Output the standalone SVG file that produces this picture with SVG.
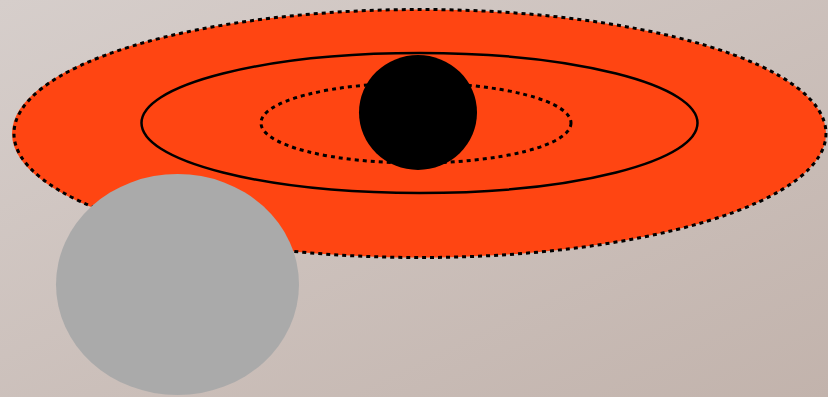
<svg xmlns="http://www.w3.org/2000/svg" width="828" height="397" viewBox="0 0 828 397">
<defs>
<linearGradient id="bg" x1="0" y1="0" x2="1" y2="1">
<stop offset="0" stop-color="#d6cecb"/>
<stop offset="1" stop-color="#c2b3ac"/>
</linearGradient>
<style>
.dot{fill:none;stroke:#000;stroke-width:3;stroke-dasharray:4 4}
.solid{fill:none;stroke:#000;stroke-width:2.5}
</style>
</defs>
<rect width="828" height="397" fill="url(#bg)"/>
<g id="outer">
<ellipse cx="419" cy="133.5" rx="407" ry="124" fill="#ff4512"/>
<ellipse cx="420" cy="133.5" rx="406" ry="124" class="dot"/>
</g>
<g id="middle">
<ellipse cx="419.5" cy="123" rx="278" ry="70" class="solid"/>
</g>
<g id="inner">
<ellipse cx="416" cy="123" rx="155" ry="40" class="dot"/>
</g>
<g id="core">
<ellipse cx="418" cy="112.5" rx="59" ry="57.5" fill="#000"/>
</g>
<g id="moon">
<ellipse cx="177.5" cy="284.5" rx="121.5" ry="110.5" fill="#aaaaaa"/>
</g>
</svg>
